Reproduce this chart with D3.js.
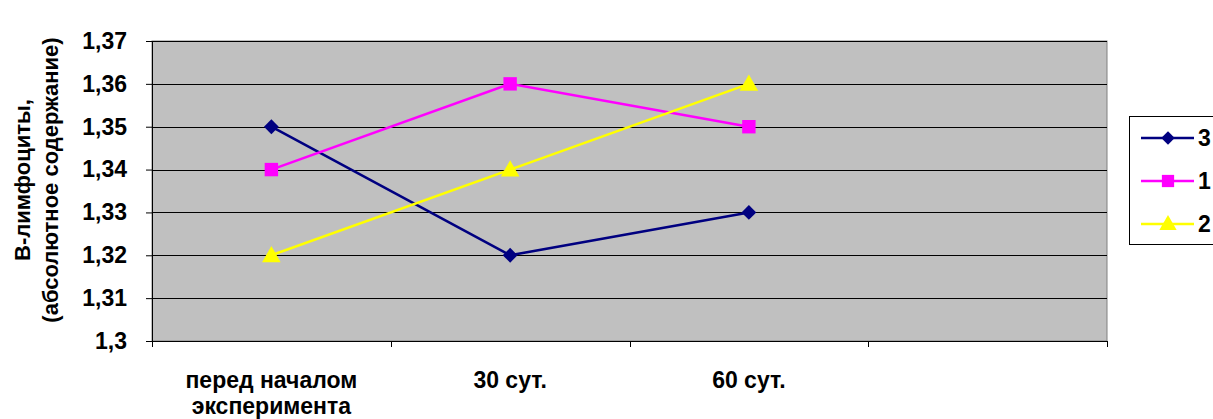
<!DOCTYPE html>
<html><head><meta charset="utf-8">
<script src="https://cdn.jsdelivr.net/npm/d3@7"></script>
<style>body{margin:0;background:#fff;} text{font-family:Arial,"Liberation Sans",sans-serif;font-weight:bold;}</style>
</head><body><svg id="c" width="1213" height="419"></svg>
<script>
const categories = ["перед началом эксперимента", "30 сут.", "60 сут.", ""];
const seriesNames = ["3", "1", "2"];
const series3 = [1.35, 1.32, 1.33];
const series1 = [1.34, 1.36, 1.35];
const series2 = [1.32, 1.34, 1.36];
const yTicks = [1.3, 1.31, 1.32, 1.33, 1.34, 1.35, 1.36, 1.37];
const colors = ["#000080", "#FF00FF", "#FFFF00"];
const symbols = [d3.symbolDiamond, d3.symbolSquare, d3.symbolTriangle];

const FS = 23;
const svg = d3.select("#c");
const L = 152, R = 1107, T = 41, B = 341;
const x = d3.scaleBand().domain(categories.map((d,i)=>i)).range([L, R]);
const y = d3.scaleLinear().domain([1.3, 1.37]).range([B, T]);

svg.append("rect").attr("x", L).attr("y", T).attr("width", R-L).attr("height", B-T)
  .attr("fill", "#C0C0C0").attr("stroke", "#808080").attr("stroke-width", 1);

// gridlines
svg.append("g").selectAll("line").data(yTicks.slice(1)).join("line")
  .attr("x1", L).attr("x2", R).attr("y1", d=>Math.round(y(d))+0.5).attr("y2", d=>Math.round(y(d))+0.5)
  .attr("stroke", "#000").attr("stroke-width", 1);

// y axis
const ya = svg.append("g").attr("transform", `translate(${L},0)`)
  .call(d3.axisLeft(y).tickValues(yTicks).tickSize(6).tickPadding(19)
    .tickFormat(d => d3.format(".2~f")(d).replace(".", ",")));
ya.select(".domain").attr("stroke", "#000");
ya.selectAll("text").attr("font-size", FS).attr("fill", "#000");

// x axis
svg.append("line").attr("x1", L-6).attr("x2", R).attr("y1", B+0.5).attr("y2", B+0.5).attr("stroke", "#000");
svg.append("g").selectAll("line").data(d3.range(categories.length+1)).join("line")
  .attr("x1", i => Math.round(L + i*x.step())+0.5).attr("x2", i => Math.round(L + i*x.step())+0.5)
  .attr("y1", B).attr("y2", B+6).attr("stroke", "#000");

// category labels
categories.forEach((c, i) => {
  if (!c) return;
  const words = c === "перед началом эксперимента" ? ["перед началом", "эксперимента"] : [c];
  const t = svg.append("text").attr("text-anchor", "middle").attr("font-size", FS).attr("fill", "#000");
  words.forEach((w, k) => t.append("tspan").attr("x", x(i) + x.bandwidth()/2).attr("y", 388 + k*26).text(w));
});

// axis title
const at = svg.append("text").attr("transform", "translate(0,180) rotate(-90)")
  .attr("text-anchor", "middle").attr("font-size", 22).attr("fill", "#000");
at.append("tspan").attr("x", 0).attr("y", 30).text("В-лимфоциты,");
at.append("tspan").attr("x", 0).attr("y", 58).text("(абсолютное содержание)");

const data = [series3, series1, series2];
const cx = i => x(i) + x.bandwidth()/2;
const line = d3.line().x((d,i)=>cx(i)).y(d=>y(d));
data.forEach((s, k) => {
  svg.append("path").attr("d", line(s)).attr("fill", "none").attr("stroke", colors[k]).attr("stroke-width", 2.5);
  svg.append("g").selectAll("path").data(s).join("path")
    .attr("d", d3.symbol().type(k===0?d3.symbolSquare:symbols[k]).size(k===0?110:(k===1?180:150)))
    .attr("transform", (d,i)=>`translate(${cx(i)},${y(d) + (k===2?1.5:0)})` + (k===0?" rotate(45)":""))
    .attr("fill", colors[k]);
});

// legend
const lg = svg.append("g");
lg.append("rect").attr("x", 1129.5).attr("y", 116.5).attr("width", 100).attr("height", 128)
  .attr("fill", "#fff").attr("stroke", "#000");
seriesNames.forEach((n, k) => {
  const yy = 138 + k*43;
  lg.append("line").attr("x1", 1141).attr("x2", 1194).attr("y1", yy).attr("y2", yy)
    .attr("stroke", colors[k]).attr("stroke-width", 2.5);
  lg.append("path").attr("transform", `translate(1168,${yy + (k===2?1:0)})` + (k===0?" rotate(45)":""))
    .attr("d", d3.symbol().type(k===0?d3.symbolSquare:symbols[k]).size(k===0?90:(k===1?150:130))).attr("fill", colors[k]);
  lg.append("text").attr("x", 1198).attr("y", yy + 8).attr("font-size", FS).attr("fill", "#000").text(n);
});
</script></body></html>
